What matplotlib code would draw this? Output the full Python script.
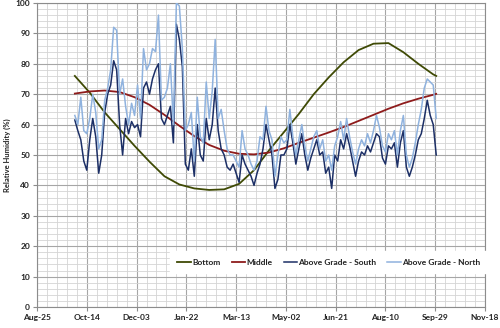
import matplotlib as mpl
mpl.use('Agg')
import matplotlib.pyplot as plt
from matplotlib.ticker import MultipleLocator

# x axis is days counted from Aug-25
tickLabels = ['Aug-25', 'Oct-14', 'Dec-03', 'Jan-22', 'Mar-13',
              'May-02', 'Jun-21', 'Aug-10', 'Sep-29', 'Nov-18']
tickDays = [0, 50, 100, 150, 200, 250, 300, 350, 400, 450]

# smooth series, read every 15 days
smoothDays = [38, 53, 68, 83, 98, 113, 128, 143, 158, 173, 188, 203, 218,
              233, 248, 263, 278, 293, 308, 323, 338, 353, 368, 383, 398, 401]
bottom = [76.0, 70.5, 64.0, 58.5, 53.0, 47.8, 43.0, 40.3, 39.0, 38.5, 38.7,
          40.5, 45.0, 51.5, 57.5, 63.5, 70.0, 75.5, 80.5, 84.5, 86.6, 86.8,
          83.8, 80.0, 76.5, 76.0]
middle = [70.2, 70.9, 71.2, 70.7, 69.0, 66.5, 63.2, 59.6, 56.2, 53.3, 51.4,
          50.4, 50.2, 50.8, 52.2, 54.0, 55.7, 57.4, 59.2, 61.2, 63.2, 65.2,
          67.0, 68.5, 69.8, 70.1]

# sensor series, read every 3 days starting day 38
sensorDays = list(range(38, 402, 3))
south = [61.5, 58, 55, 48, 45, 55, 62, 56, 44, 50, 64, 70, 73, 81, 78, 60,
         50, 62, 57, 61, 59, 60, 56, 72, 74, 70, 75, 78, 80, 62, 60, 63,
         66, 54, 93, 88, 79, 47, 45, 52, 43, 60, 50, 48, 62, 55, 60, 72,
         58, 52, 50, 46, 45, 47, 44, 41, 50, 47, 45, 43, 40, 44, 47, 52,
         60, 55, 50, 39, 42, 50, 50, 52, 60, 54, 47, 52, 57, 50, 45, 49,
         52, 55, 50, 51, 44, 46, 39, 50, 48, 55, 52, 57, 53, 48, 43, 48,
         51, 50, 53, 51, 54, 57, 56, 49, 47, 53, 52, 54, 46, 54, 58, 46,
         43, 46, 50, 55, 57, 62, 68, 63, 60, 50]
north = [63, 60, 69, 58, 57, 62, 70, 64, 52, 55, 68, 72, 78, 92, 91, 70,
         75, 66, 60, 67, 63, 73, 62, 85, 78, 80, 85, 84, 96, 68, 69, 72,
         80, 60, 100, 99, 85, 58, 60, 64, 48, 69, 56, 54, 74, 62, 71, 88,
         62, 65, 58, 52, 50, 50, 48, 46, 58, 52, 50, 47, 45, 48, 56, 55,
         66, 58, 55, 43, 50, 56, 54, 55, 65, 56, 50, 55, 60, 53, 48, 52,
         56, 58, 52, 55, 48, 50, 45, 53, 56, 61, 55, 62, 56, 51, 47, 52,
         55, 53, 57, 54, 58, 63, 59, 53, 51, 57, 55, 58, 50, 58, 63, 50,
         46, 49, 54, 60, 65, 72, 75, 74, 73, 62]

plt.rcParams['font.family'] = ['Lato', 'DejaVu Sans']

fig = plt.figure(figsize=(5.0, 3.28), dpi=100)
ax = fig.add_axes([0.074, 0.064, 0.896, 0.927])

ax.plot(smoothDays, bottom, color='#3f4a05', lw=1.3, label='Bottom', zorder=3)
ax.plot(smoothDays, middle, color='#8e1b1b', lw=1.3, label='Middle', zorder=3)
ax.plot(sensorDays, south, color='#1c2f66', lw=1.1, label='Above Grade - South', zorder=3)
ax.plot(sensorDays, north, color='#8fb2de', lw=1.1, label='Above Grade - North', zorder=3)

ax.set_xlim(0, 450)
ax.set_ylim(0, 100)
ax.set_xticks(tickDays)
ax.set_xticklabels(tickLabels)
ax.xaxis.set_minor_locator(MultipleLocator(10))
ax.yaxis.set_major_locator(MultipleLocator(10))
ax.yaxis.set_minor_locator(MultipleLocator(2))
ax.grid(which='major', color='#a6a6a6', lw=0.8)
ax.grid(which='minor', color='#d4d4d4', lw=0.6)
ax.set_axisbelow(True)
ax.tick_params(which='major', labelsize=6, length=3, width=0.8,
               color='#8c8c8c', pad=2, labelcolor='#222222')
ax.tick_params(which='minor', length=0)
for lab in ax.get_xticklabels() + ax.get_yticklabels():
    lab.set_fontweight('bold')
for s in ax.spines.values():
    s.set_color('#8c8c8c')
    s.set_linewidth(0.8)

ax.set_ylabel('Relative Humidity (%)', fontsize=5.5, fontweight='bold',
              color='#222222')
ax.yaxis.set_label_coords(-0.058, 0.5)

leg = ax.legend(loc='center', bbox_to_anchor=(0.652, 0.148), ncol=4,
                fontsize=6, frameon=True, fancybox=False, handlelength=1.6,
                handletextpad=0.2, columnspacing=1.3, borderpad=0.9)
leg.get_frame().set_edgecolor('white')
leg.get_frame().set_facecolor('white')
leg.get_frame().set_alpha(1)
for t in leg.get_texts():
    t.set_fontweight('bold')
    t.set_color('#222222')

plt.savefig('out.png', dpi=100)
